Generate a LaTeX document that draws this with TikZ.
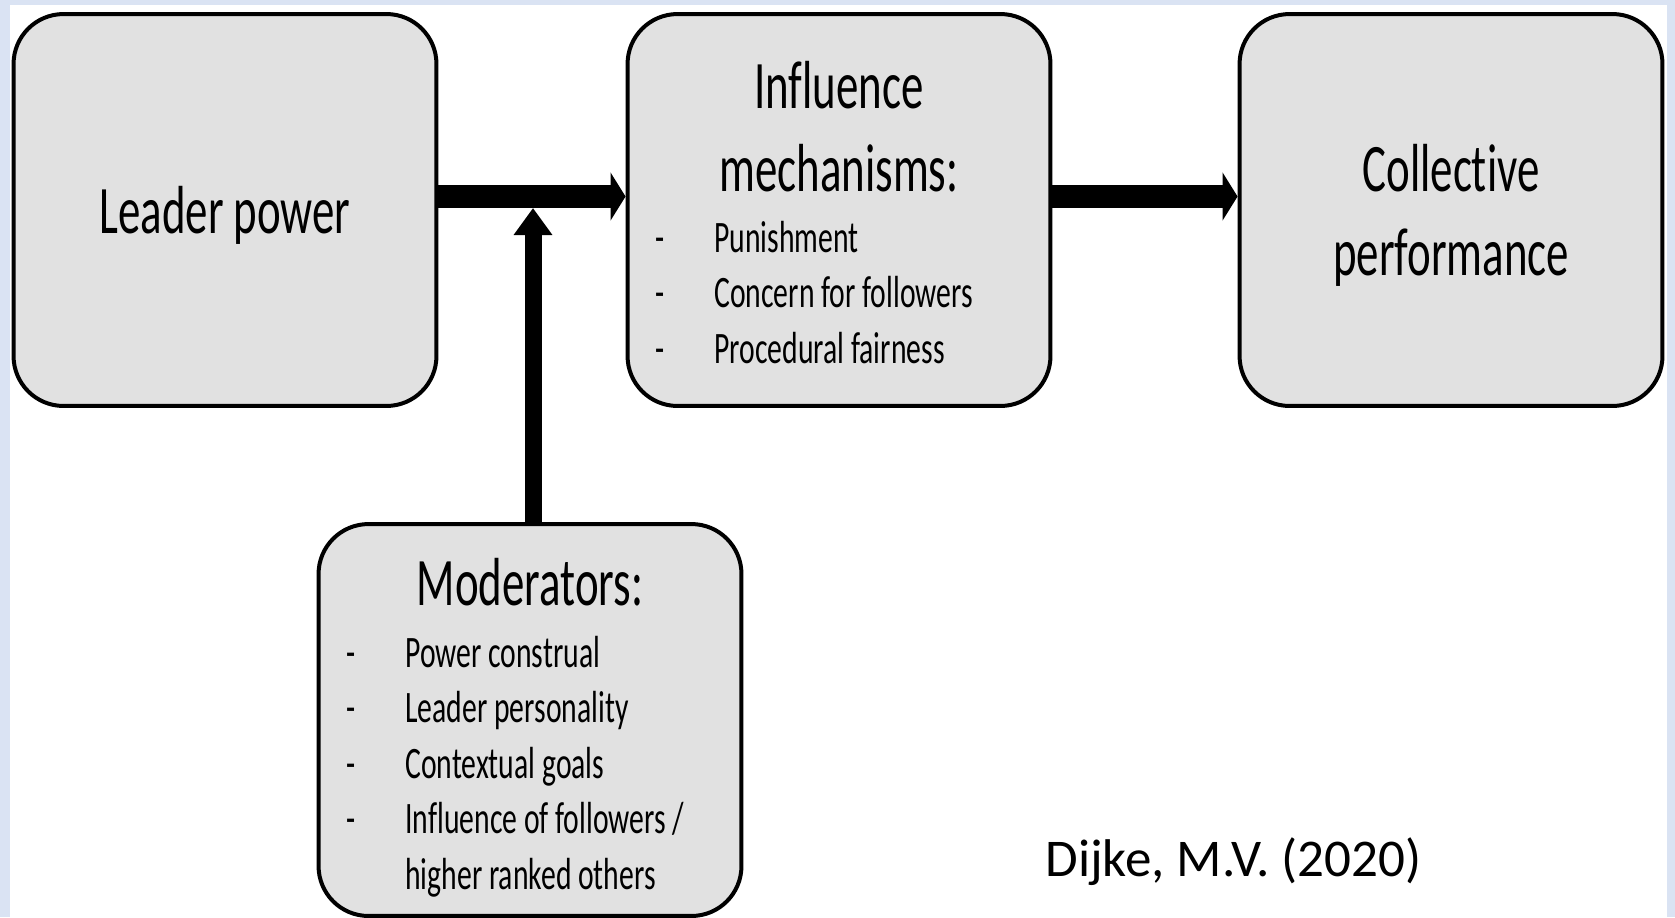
\documentclass[tikz,border=0pt]{standalone}
\usepackage{fontspec}
\setmainfont{Carlito}
\newfontfamily\narrowfont{Carlito}[FakeStretch=0.66,Ligatures=NoCommon]
\usetikzlibrary{positioning,arrows.meta}
\definecolor{slideblue}{RGB}{218,227,243}
\definecolor{boxgray}{RGB}{225,225,225}
\tikzset{
    block/.style={rectangle,draw=black,fill=boxgray,line width=0.08cm,rounded corners=1cm,
        minimum width=8.46cm,minimum height=7.84cm,inner sep=0pt,align=center,text depth=0pt,
        font=\narrowfont\fontsize{38.7}{47.8}\selectfont},
    heading/.style={anchor=base,inner sep=0pt,font=\narrowfont\fontsize{38.7}{47.8}\selectfont},
    itemlist/.style={anchor=base west,inner sep=0pt,font=\narrowfont\fontsize{25.6}{31.6}\selectfont},
    flow/.style={line width=0.46cm,-{Triangle[length=0.3cm,width=0.95cm]}},
    lift/.style={line width=0.34cm,-{Triangle[length=0.54cm,width=0.74cm]}},
}
\newcommand{\dashrow}[1]{\makebox[1.18cm][l]{-}#1}
\newcommand{\morerow}[1]{\makebox[1.18cm][l]{}#1}

\begin{document}
\begin{tikzpicture}[x=0.02cm,y=-0.02cm]
        \useasboundingbox (0,0) rectangle (1675,917);
        \fill[slideblue] (0,0) rectangle (1675,917);
        \fill[white] (10,5) rectangle (1667,917);

        \node[block] (lead) at (225,210) {Leader power};
        \node[block] (infl) at (839,210) {};
        \node[block] (coll) at (1451,210) {Collective\\performance};
        \node[block] (modr) at (530,720) {};

        \node[heading] (inflhead) at (839,108) {\begin{tabular}[t]{@{}c@{}}Influence\\mechanisms:\end{tabular}};
        \node[itemlist] (infllist) at (655,252) {\begin{tabular}[t]{@{}l@{}}
            \dashrow{Punishment}\\ \dashrow{Concern for followers}\\ \dashrow{Procedural fairness}
        \end{tabular}};
        \node[heading] (modrhead) at (530,605) {Moderators:};
        \node[itemlist] (modrlist) at (346,667) {\begin{tabular}[t]{@{}l@{}}
            \dashrow{Power construal}\\ \dashrow{Leader personality}\\ \dashrow{Contextual goals}\\
            \dashrow{Influence of followers /}\\ \morerow{higher ranked others}
        \end{tabular}};
        \node[anchor=base west,inner sep=0pt,font=\fontsize{30.2}{36}\selectfont] (cite) at (1045,876) {Dijke, M.V. (2020)};

        \coordinate (join) at (533,208);
        \draw[flow] ([yshift=0.27cm]lead.east) -- ([yshift=0.27cm]infl.west);
        \draw[flow] ([yshift=0.27cm]infl.east) -- ([yshift=0.27cm]coll.west);
        \draw[lift] (modr.north -| join) -- (join);
\end{tikzpicture}
\end{document}
